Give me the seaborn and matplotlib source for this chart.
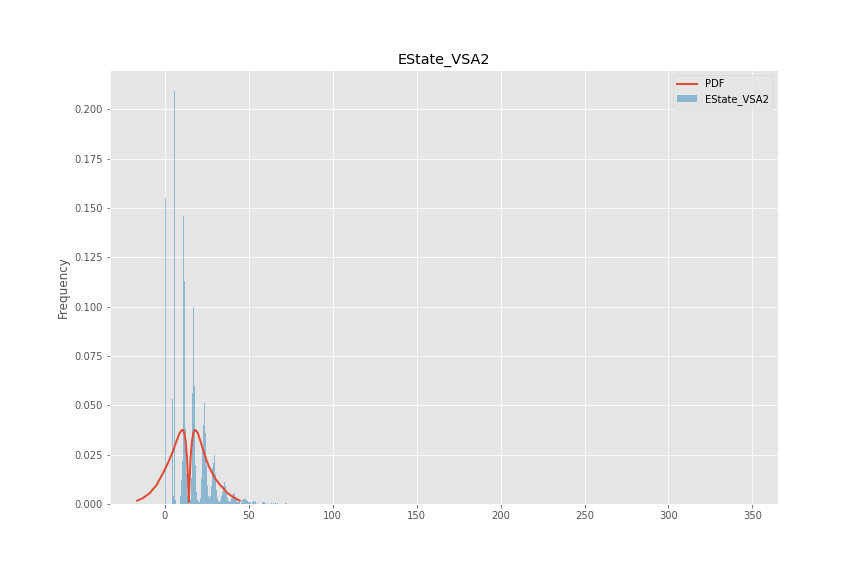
import matplotlib
matplotlib.use('Agg')
import matplotlib.pyplot as plt
import seaborn as sns

plt.style.use('ggplot')

# histogramme (densite) : centre des classes et hauteur
bin_x = [0.3,
         4.5, 5.1, 5.7, 6.3,
         9.3, 9.9, 10.5, 11.1, 11.7, 12.3, 12.9, 13.5, 14.1, 14.7,
         15.3, 15.9, 16.5, 17.1, 17.7, 18.3, 18.9, 19.5, 20.1, 20.7,
         21.3, 21.9, 22.5, 23.1, 23.7, 24.3, 24.9, 25.5, 26.1, 26.7,
         27.3, 27.9, 28.5, 29.1, 29.7, 30.3, 30.9, 31.5, 32.1, 32.7,
         33.3, 33.9, 34.5, 35.1, 35.7, 36.3, 36.9, 37.5, 38.1, 38.7,
         39.3, 39.9, 40.5, 41.1, 41.7, 42.3, 42.9, 43.5, 44.1, 44.7,
         45.9, 46.5, 47.1, 47.7, 48.3, 48.9, 49.5, 50.1, 50.7, 51.3,
         52.5, 53.1, 53.7, 54.3, 55.5, 57.9, 58.5, 59.1, 60.3,
         63.3, 64.5, 65.7, 66.9, 71.7, 72.3]
bin_h = [0.155,
         0.053, 0.004, 0.209, 0.002,
         0.004, 0.012, 0.022, 0.146, 0.113, 0.038, 0.015, 0.004, 0.001, 0.001,
         0.002, 0.013, 0.056, 0.100, 0.060, 0.020, 0.006, 0.002, 0.0015, 0.001,
         0.003, 0.013, 0.030, 0.040, 0.051, 0.036, 0.020, 0.009, 0.004, 0.003,
         0.004, 0.009, 0.018, 0.021, 0.025, 0.015, 0.007, 0.003, 0.0015, 0.001,
         0.002, 0.004, 0.006, 0.009, 0.011, 0.009, 0.006, 0.003, 0.0015, 0.001,
         0.0015, 0.003, 0.0045, 0.0055, 0.005, 0.0037, 0.0024, 0.0012, 0.001, 0.001,
         0.0012, 0.0022, 0.0024, 0.0025, 0.0025, 0.0022, 0.0015, 0.001, 0.0008, 0.0008,
         0.0008, 0.0016, 0.0012, 0.0016, 0.0005, 0.0008, 0.001, 0.001, 0.0006,
         0.0006, 0.0006, 0.0006, 0.0005, 0.0006, 0.0006]

# courbe PDF
pdf_x = [-16.5, -13, -9, -5, -1, 2, 5, 7, 8.9, 10.0, 10.8, 11.6, 12.4, 13.2, 13.8,
         14.3, 14.8, 15.4, 16.2, 17.0, 17.8, 18.6, 19.6, 20.8, 21.9, 23.4, 24.9,
         26.3, 27.8, 29.3, 30.8, 32.8, 34.8, 36.8, 38.8, 41.8, 44.7]
pdf_y = [0.0017, 0.0030, 0.0055, 0.0095, 0.0157, 0.021, 0.027, 0.032, 0.036, 0.0373,
         0.0375, 0.036, 0.032, 0.024, 0.013, 0.001, 0.013, 0.024, 0.032, 0.036, 0.0375,
         0.0373, 0.036, 0.033, 0.030, 0.026, 0.022, 0.019, 0.0164, 0.014, 0.012,
         0.0098, 0.008, 0.006, 0.0046, 0.003, 0.0017]

fig, ax = plt.subplots(figsize=(12, 8), dpi=72)
fig.subplots_adjust(left=0.127, right=0.9, bottom=0.125, top=0.878)

sns.histplot(x=bin_x, weights=bin_h, binwidth=0.6, binrange=(0, 348),
             color='#348ABD', alpha=0.5, linewidth=0, label='EState_VSA2', ax=ax)
sns.lineplot(x=pdf_x, y=pdf_y, color='#E24A33', linewidth=2, label='PDF', ax=ax)

ax.set_xlim(-32.8, 365)
ax.set_ylim(0, 0.2197)
ax.set_title('EState_VSA2')
ax.set_xlabel('')
ax.set_ylabel('Frequency')
ax.legend(loc='upper right')

plt.savefig('out.png')
